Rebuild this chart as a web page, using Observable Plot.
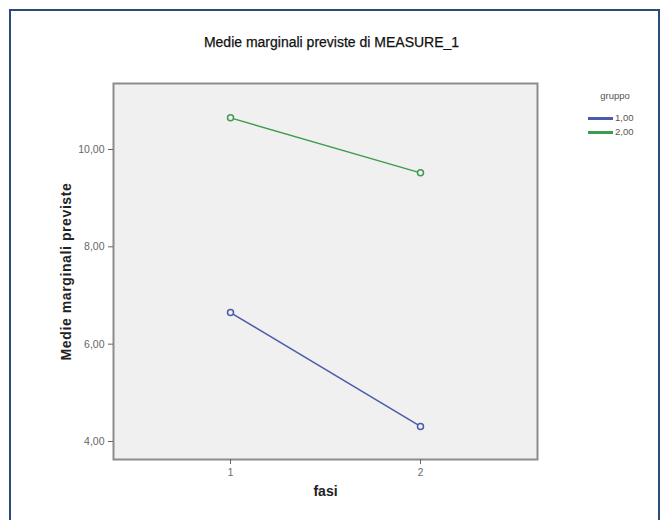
<!DOCTYPE html>
<html><head><meta charset="utf-8">
<script src="https://cdn.jsdelivr.net/npm/d3@7"></script>
<script src="https://cdn.jsdelivr.net/npm/@observablehq/plot@0.6"></script>
<style>
body{margin:0;background:#fff;font-family:"Liberation Sans",Arial,sans-serif}
#wrap{position:relative;width:663px;height:520px;overflow:hidden;background:#fff}
#border{position:absolute;left:9px;top:9px;width:651px;height:540px;border:2px solid #2b4a7c;box-sizing:border-box}
#title{position:absolute;left:0;width:663px;top:34px;text-align:center;font-size:14px;color:#111;-webkit-text-stroke:0.25px #111}
#chart{position:absolute;left:0;top:0}
#legend{position:absolute;left:580px;top:90px;font-size:9.5px;color:#555}
.lg-title{position:absolute;left:0;width:70px;text-align:center;top:0}
.lg-row{position:absolute;left:8px;height:12px;white-space:nowrap}
.lg-sw{display:inline-block;width:25px;height:3px;vertical-align:middle;margin-right:2px}
.ylab text{letter-spacing:0.6px}
</style></head>
<body>
<div id="wrap">
  <div id="border"></div>
  <div id="title"></div>
  <div id="chart"></div>
  <div id="legend"></div>
</div>
<script>
const titleText = "Medie marginali previste di MEASURE_1";
const yLabel = "Medie marginali previste";
const xLabel = "fasi";
const legendTitle = "gruppo";
const phases = [1, 2];
const groups = ["1,00", "2,00"];
const group1Values = [6.65, 4.31];
const group2Values = [10.65, 9.52];
const groupColors = ["#4b5bab", "#3f9b4f"];
const yTicks = [4, 6, 8, 10];

const seriesValues = [group1Values, group2Values];
const data = [];
groups.forEach((g, gi) => phases.forEach((p, pi) => data.push({fase: p, gruppo: g, value: seriesValues[gi][pi]})));

document.getElementById("title").textContent = titleText;

const fmt = d => d.toFixed(2).replace(".", ",");

const plot = Plot.plot({
  width: 663,
  height: 520,
  marginLeft: 113,
  marginRight: 126,
  marginTop: 83,
  marginBottom: 61,
  style: {fontFamily: "'Liberation Sans', Arial, sans-serif", background: "transparent"},
  x: {domain: [0.384, 2.616]},
  y: {domain: [3.63, 11.356]},
  color: {domain: groups, range: groupColors},
  marks: [
    Plot.frame({fill: "#f0f0f0", stroke: "#8c8c8c", strokeWidth: 2}),
    Plot.axisY({ticks: yTicks, tickFormat: fmt, tickSize: 5, fontSize: 10.5, color: "#666", label: null}),
    Plot.axisX({ticks: phases, tickFormat: d => String(d), tickSize: 5, fontSize: 10, color: "#666", label: null}),
    Plot.text([yLabel], {className: "ylab", frameAnchor: "left", textAnchor: "middle", dx: -47, rotate: -90, fontSize: 14, fontWeight: "bold", fill: "#222"}),
    Plot.text([xLabel], {frameAnchor: "bottom", dy: 36, fontSize: 14, fontWeight: "bold", fill: "#222"}),
    Plot.line(data, {x: "fase", y: "value", z: "gruppo", stroke: "gruppo", strokeWidth: 1.5}),
    Plot.dot(data, {x: "fase", y: "value", stroke: "gruppo", fill: "#f0f0f0", r: 3, strokeWidth: 1.5})
  ]
});
document.getElementById("chart").appendChild(plot);

const leg = document.getElementById("legend");
const t = document.createElement("div");
t.className = "lg-title"; t.textContent = legendTitle; leg.appendChild(t);
groups.forEach((g, i) => {
  const row = document.createElement("div");
  row.className = "lg-row";
  row.style.top = (22 + i * 14) + "px";
  const sw = document.createElement("span");
  sw.className = "lg-sw"; sw.style.background = groupColors[i];
  row.appendChild(sw);
  row.appendChild(document.createTextNode(g));
  leg.appendChild(row);
});
</script>
</body></html>
